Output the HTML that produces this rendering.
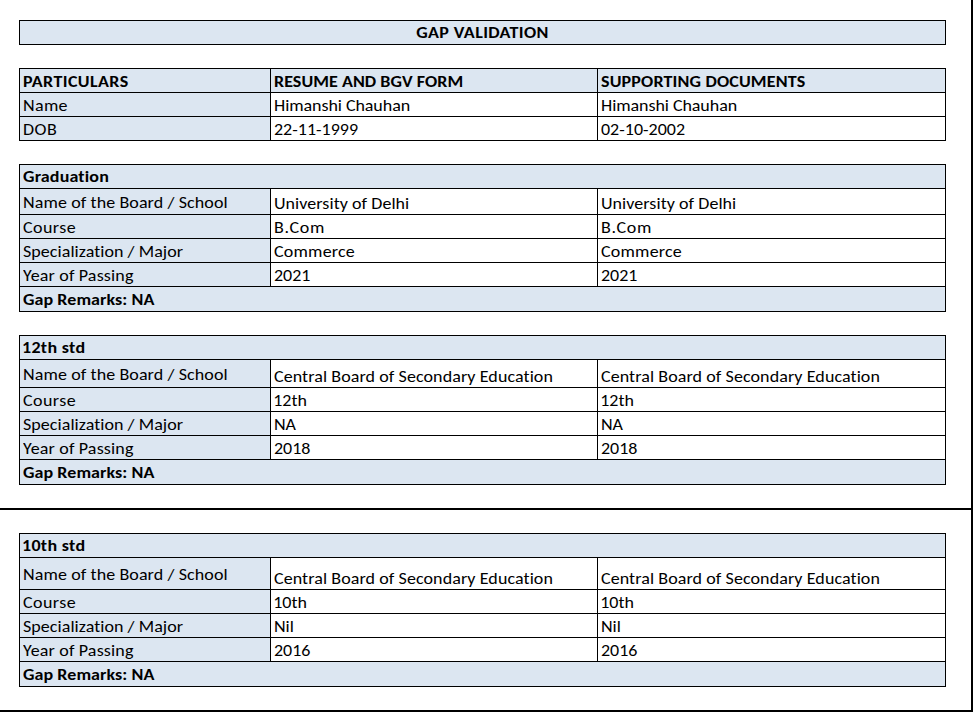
<!DOCTYPE html>
<html><head><meta charset="utf-8"><title>GAP VALIDATION</title>
<style>
html,body{margin:0;padding:0;background:#fff}
body{width:975px;height:717px;position:relative;overflow:hidden}
div,span{position:absolute}
span{font-family:"Carlito","Liberation Sans",sans-serif;font-size:18.0px;line-height:22px;height:22px;white-space:pre;color:#000;transform-origin:0 17px;transform:scaleY(0.95)}
.b{font-weight:bold;font-size:18px;transform-origin:0 17px;transform:scaleY(0.94)}
</style></head><body>
<div style="left:19px;top:20px;width:927px;height:25px;background:#dce6f1"></div>
<div style="left:19px;top:20px;width:927px;height:1px;background:#000"></div>
<div style="left:19px;top:44px;width:927px;height:1px;background:#000"></div>
<div style="left:19px;top:20px;width:1px;height:25px;background:#000"></div>
<div style="left:945px;top:20px;width:1px;height:25px;background:#000"></div>
<span class="b" style="left:182.5px;top:21px;width:600px;text-align:center;letter-spacing:0.385px;">GAP VALIDATION</span>
<div style="left:19px;top:68px;width:927px;height:25px;background:#dce6f1"></div>
<div style="left:19px;top:92px;width:252px;height:25px;background:#dce6f1"></div>
<div style="left:19px;top:116px;width:252px;height:25px;background:#dce6f1"></div>
<div style="left:19px;top:68px;width:927px;height:1px;background:#000"></div>
<div style="left:19px;top:92px;width:927px;height:1px;background:#000"></div>
<div style="left:19px;top:116px;width:927px;height:1px;background:#000"></div>
<div style="left:19px;top:140px;width:927px;height:1px;background:#000"></div>
<div style="left:19px;top:68px;width:1px;height:73px;background:#000"></div>
<div style="left:945px;top:68px;width:1px;height:73px;background:#000"></div>
<div style="left:270px;top:68px;width:1px;height:25px;background:#000"></div>
<div style="left:597px;top:68px;width:1px;height:25px;background:#000"></div>
<div style="left:270px;top:92px;width:1px;height:25px;background:#000"></div>
<div style="left:597px;top:92px;width:1px;height:25px;background:#000"></div>
<div style="left:270px;top:116px;width:1px;height:25px;background:#000"></div>
<div style="left:597px;top:116px;width:1px;height:25px;background:#000"></div>
<span class="b" style="left:23px;top:70px;letter-spacing:0.400px;">PARTICULARS</span>
<span class="b" style="left:274px;top:70px;letter-spacing:0.056px;">RESUME AND BGV FORM</span>
<span class="b" style="left:601px;top:70px;letter-spacing:0.158px;">SUPPORTING DOCUMENTS</span>
<span style="left:23px;top:94px;letter-spacing:0.333px;">Name</span>
<span style="left:274px;top:94px;letter-spacing:-0.067px;">Himanshi Chauhan</span>
<span style="left:601px;top:94px;letter-spacing:-0.067px;">Himanshi Chauhan</span>
<span style="left:23px;top:118px;letter-spacing:0.500px;">DOB</span>
<span style="left:274px;top:118px;">22-11-1999</span>
<span style="left:601px;top:118px;">02-10-2002</span>
<div style="left:19px;top:164px;width:927px;height:25px;background:#dce6f1"></div>
<div style="left:19px;top:188px;width:252px;height:27px;background:#dce6f1"></div>
<div style="left:19px;top:214px;width:252px;height:25px;background:#dce6f1"></div>
<div style="left:19px;top:238px;width:252px;height:25px;background:#dce6f1"></div>
<div style="left:19px;top:262px;width:252px;height:25px;background:#dce6f1"></div>
<div style="left:19px;top:286px;width:927px;height:26px;background:#dce6f1"></div>
<div style="left:19px;top:164px;width:927px;height:1px;background:#000"></div>
<div style="left:19px;top:188px;width:927px;height:1px;background:#000"></div>
<div style="left:19px;top:214px;width:927px;height:1px;background:#000"></div>
<div style="left:19px;top:238px;width:927px;height:1px;background:#000"></div>
<div style="left:19px;top:262px;width:927px;height:1px;background:#000"></div>
<div style="left:19px;top:286px;width:927px;height:1px;background:#000"></div>
<div style="left:19px;top:311px;width:927px;height:1px;background:#000"></div>
<div style="left:19px;top:164px;width:1px;height:148px;background:#000"></div>
<div style="left:945px;top:164px;width:1px;height:148px;background:#000"></div>
<div style="left:270px;top:188px;width:1px;height:27px;background:#000"></div>
<div style="left:597px;top:188px;width:1px;height:27px;background:#000"></div>
<div style="left:270px;top:214px;width:1px;height:25px;background:#000"></div>
<div style="left:597px;top:214px;width:1px;height:25px;background:#000"></div>
<div style="left:270px;top:238px;width:1px;height:25px;background:#000"></div>
<div style="left:597px;top:238px;width:1px;height:25px;background:#000"></div>
<div style="left:270px;top:262px;width:1px;height:25px;background:#000"></div>
<div style="left:597px;top:262px;width:1px;height:25px;background:#000"></div>
<span class="b" style="left:23px;top:165px;letter-spacing:0.156px;">Graduation</span>
<span style="left:23px;top:191px;letter-spacing:0.100px;">Name of the Board / School</span>
<span style="left:274px;top:192px;letter-spacing:0.056px;">University of Delhi</span>
<span style="left:601px;top:192px;letter-spacing:0.056px;">University of Delhi</span>
<span style="left:23px;top:216px;letter-spacing:0.440px;">Course</span>
<span style="left:274px;top:216px;letter-spacing:0.750px;">B.Com</span>
<span style="left:601px;top:216px;letter-spacing:0.750px;">B.Com</span>
<span style="left:23px;top:240px;letter-spacing:0.057px;">Specialization / Major</span>
<span style="left:274px;top:240px;letter-spacing:0.200px;">Commerce</span>
<span style="left:601px;top:240px;letter-spacing:0.200px;">Commerce</span>
<span style="left:23px;top:264px;letter-spacing:0.164px;">Year of Passing</span>
<span style="left:274px;top:264px;">2021</span>
<span style="left:601px;top:264px;">2021</span>
<span class="b" style="left:23px;top:288px;letter-spacing:0.064px;">Gap Remarks: NA</span>
<div style="left:19px;top:335px;width:927px;height:25px;background:#dce6f1"></div>
<div style="left:19px;top:359px;width:252px;height:29px;background:#dce6f1"></div>
<div style="left:19px;top:387px;width:252px;height:25px;background:#dce6f1"></div>
<div style="left:19px;top:411px;width:252px;height:25px;background:#dce6f1"></div>
<div style="left:19px;top:435px;width:252px;height:25px;background:#dce6f1"></div>
<div style="left:19px;top:459px;width:927px;height:26px;background:#dce6f1"></div>
<div style="left:19px;top:335px;width:927px;height:1px;background:#000"></div>
<div style="left:19px;top:359px;width:927px;height:1px;background:#000"></div>
<div style="left:19px;top:387px;width:927px;height:1px;background:#000"></div>
<div style="left:19px;top:411px;width:927px;height:1px;background:#000"></div>
<div style="left:19px;top:435px;width:927px;height:1px;background:#000"></div>
<div style="left:19px;top:459px;width:927px;height:1px;background:#000"></div>
<div style="left:19px;top:484px;width:927px;height:1px;background:#000"></div>
<div style="left:19px;top:335px;width:1px;height:150px;background:#000"></div>
<div style="left:945px;top:335px;width:1px;height:150px;background:#000"></div>
<div style="left:270px;top:359px;width:1px;height:29px;background:#000"></div>
<div style="left:597px;top:359px;width:1px;height:29px;background:#000"></div>
<div style="left:270px;top:387px;width:1px;height:25px;background:#000"></div>
<div style="left:597px;top:387px;width:1px;height:25px;background:#000"></div>
<div style="left:270px;top:411px;width:1px;height:25px;background:#000"></div>
<div style="left:597px;top:411px;width:1px;height:25px;background:#000"></div>
<div style="left:270px;top:435px;width:1px;height:25px;background:#000"></div>
<div style="left:597px;top:435px;width:1px;height:25px;background:#000"></div>
<span class="b" style="left:22px;top:336px;letter-spacing:0.314px;">12th std</span>
<span style="left:23px;top:363px;letter-spacing:0.100px;">Name of the Board / School</span>
<span style="left:274px;top:365px;letter-spacing:0.086px;">Central Board of Secondary Education</span>
<span style="left:601px;top:365px;letter-spacing:0.086px;">Central Board of Secondary Education</span>
<span style="left:23px;top:389px;letter-spacing:0.440px;">Course</span>
<span style="left:273.2px;top:389px;">12th</span>
<span style="left:600.2px;top:389px;">12th</span>
<span style="left:23px;top:413px;letter-spacing:0.057px;">Specialization / Major</span>
<span style="left:274px;top:413px;">NA</span>
<span style="left:601px;top:413px;">NA</span>
<span style="left:23px;top:437px;letter-spacing:0.164px;">Year of Passing</span>
<span style="left:274px;top:437px;">2018</span>
<span style="left:601px;top:437px;">2018</span>
<span class="b" style="left:23px;top:461px;letter-spacing:0.064px;">Gap Remarks: NA</span>
<div style="left:19px;top:533px;width:927px;height:25px;background:#dce6f1"></div>
<div style="left:19px;top:557px;width:252px;height:33px;background:#dce6f1"></div>
<div style="left:19px;top:589px;width:252px;height:25px;background:#dce6f1"></div>
<div style="left:19px;top:613px;width:252px;height:25px;background:#dce6f1"></div>
<div style="left:19px;top:637px;width:252px;height:25px;background:#dce6f1"></div>
<div style="left:19px;top:661px;width:927px;height:26px;background:#dce6f1"></div>
<div style="left:19px;top:533px;width:927px;height:1px;background:#000"></div>
<div style="left:19px;top:557px;width:927px;height:1px;background:#000"></div>
<div style="left:19px;top:589px;width:927px;height:1px;background:#000"></div>
<div style="left:19px;top:613px;width:927px;height:1px;background:#000"></div>
<div style="left:19px;top:637px;width:927px;height:1px;background:#000"></div>
<div style="left:19px;top:661px;width:927px;height:1px;background:#000"></div>
<div style="left:19px;top:686px;width:927px;height:1px;background:#000"></div>
<div style="left:19px;top:533px;width:1px;height:154px;background:#000"></div>
<div style="left:945px;top:533px;width:1px;height:154px;background:#000"></div>
<div style="left:270px;top:557px;width:1px;height:33px;background:#000"></div>
<div style="left:597px;top:557px;width:1px;height:33px;background:#000"></div>
<div style="left:270px;top:589px;width:1px;height:25px;background:#000"></div>
<div style="left:597px;top:589px;width:1px;height:25px;background:#000"></div>
<div style="left:270px;top:613px;width:1px;height:25px;background:#000"></div>
<div style="left:597px;top:613px;width:1px;height:25px;background:#000"></div>
<div style="left:270px;top:637px;width:1px;height:25px;background:#000"></div>
<div style="left:597px;top:637px;width:1px;height:25px;background:#000"></div>
<span class="b" style="left:22px;top:534px;letter-spacing:0.314px;">10th std</span>
<span style="left:23px;top:563px;letter-spacing:0.100px;">Name of the Board / School</span>
<span style="left:274px;top:567px;letter-spacing:0.086px;">Central Board of Secondary Education</span>
<span style="left:601px;top:567px;letter-spacing:0.086px;">Central Board of Secondary Education</span>
<span style="left:23px;top:591px;letter-spacing:0.440px;">Course</span>
<span style="left:273.2px;top:591px;">10th</span>
<span style="left:600.2px;top:591px;">10th</span>
<span style="left:23px;top:615px;letter-spacing:0.057px;">Specialization / Major</span>
<span style="left:274px;top:615px;">Nil</span>
<span style="left:601px;top:615px;">Nil</span>
<span style="left:23px;top:639px;letter-spacing:0.164px;">Year of Passing</span>
<span style="left:274px;top:639px;">2016</span>
<span style="left:601px;top:639px;">2016</span>
<span class="b" style="left:23px;top:663px;letter-spacing:0.064px;">Gap Remarks: NA</span>
<div style="left:0px;top:508px;width:973px;height:2px;background:#000"></div>
<div style="left:0px;top:710px;width:973px;height:2px;background:#000"></div>
<div style="left:971px;top:0px;width:2px;height:712px;background:#000"></div>
</body></html>
